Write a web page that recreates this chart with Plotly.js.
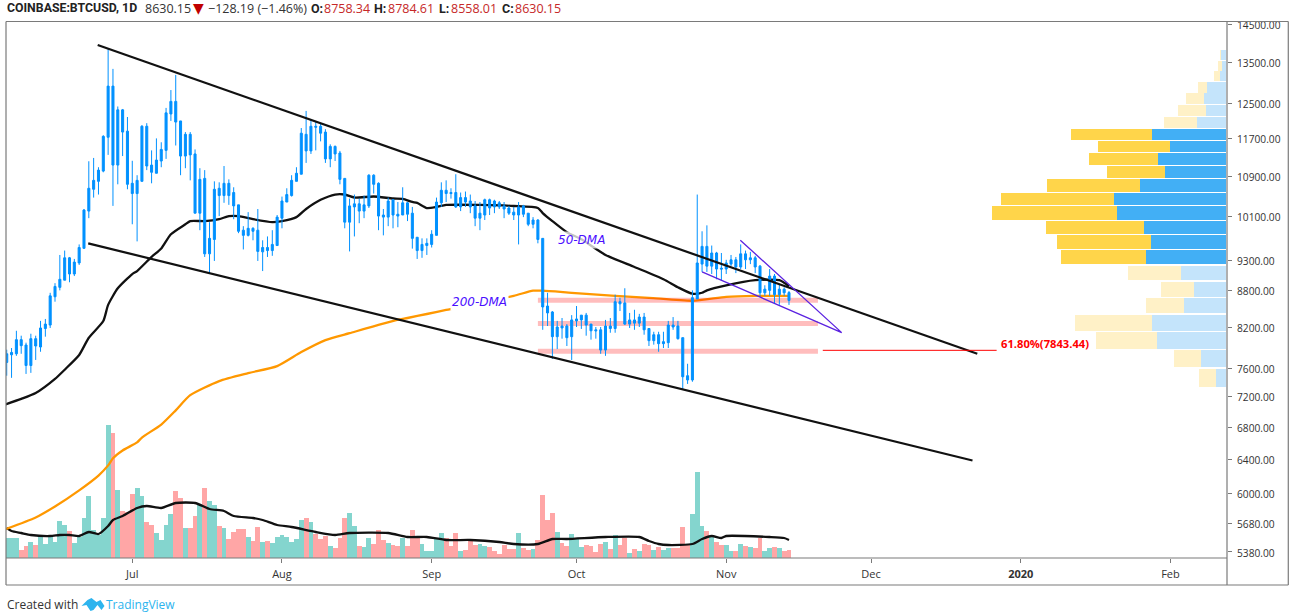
<!DOCTYPE html>
<html>
<head>
<meta charset="utf-8">
<script src="https://cdn.plot.ly/plotly-3.0.1.min.js"></script>
<style>
html, body { margin: 0; padding: 0; background: #fff; }
#chart { width: 1295px; height: 614px; }
</style>
</head>
<body>
<div id="chart"></div>
<script>
// Daily candles, Jun 5 to Nov 14 2019, one line per month
const firstDay = '2019-06-05';
const openPrices = [
    7682,7792,7807,8017,7937,7637,8032,7907,8187,8240,8690,8845,8965,9350,9070,9260,9518,10208,10635,10795,11005,11727,12910,11130,12347,11862,
    10755,10550,10795,11972,11130,10960,11215,11442,12252,12545,12092,11320,11792,11365,10168,10855,9420,9678,10655,10510,10755,10570,10328,9848,9753,9883,9848,9455,9533,9478,9568,
    10073,10383,10510,10795,10940,11792,11430,11972,11972,11842,11260,11527,11385,10855,9998,10288,10348,10208,10308,10920,10755,10133,10093,10428,10148,10133,10368,10168,9718,9478,9568,
    9588,9753,10368,10615,10570,10570,10288,10470,10403,10308,10073,10133,10428,10403,10368,10308,10268,10188,10133,10308,10168,9958,10038,9698,8540,8445,8062,8225,8225,8062,
    8305,8320,8395,8255,8167,8167,7862,8225,8187,8610,8590,8255,8320,8270,8365,8187,8002,8092,7957,7972,8240,8225,8047,7492,7432,8655,9240,9553,9205,9435,9170,
    9155,9240,9315,9190,9420,9315,9350,9205,8755,8795,9035,8725,8815,8758.34
];
const highPrices = [
    7867,7892,8152,8077,7972,8107,8077,8305,8335,8755,8915,9400,9478,9365,9330,9588,10248,11210,11280,11085,11772,13845,13335,12425,12367,12182,
    11220,10920,11997,12042,11442,11702,11617,12392,12815,13185,12092,11842,11842,11462,11065,11025,9998,10795,10775,11110,10835,10675,10328,9923,10188,9903,10248,9663,9733,9848,10133,
    10490,10655,10920,11085,11932,12322,12137,12067,12022,11907,11572,11547,11430,10855,10450,10530,10450,10510,10940,10940,10775,10248,10470,10443,10383,10675,10383,10288,9718,9698,9698,
    9848,10470,10775,10815,10655,10940,10570,10590,10530,10403,10383,10450,10450,10428,10403,10383,10308,10288,10383,10328,10168,10093,10053,9698,8755,8460,8305,8350,8255,8395,
    8540,8395,8430,8255,8210,8210,8320,8350,8725,8675,8830,8430,8480,8415,8430,8187,8137,8137,8137,8305,8365,8305,8047,7662,8795,10530,9828,9938,9568,9455,9435,
    9315,9400,9365,9588,9478,9455,9385,9225,8880,9155,9070,8895,8845,8784.61
];
const lowPrices = [
    7492,7462,7777,7807,7517,7532,7717,7837,8062,8195,8610,8795,8965,8930,9035,9225,9513,10073,10470,10530,10980,11345,10308,10735,11320,10635,
    9958,9643,10795,11025,10755,10960,11085,11260,12092,11547,10920,11065,10815,10168,9848,9365,9070,9295,10113,10368,10328,10053,9793,9498,9733,9663,9295,9120,9365,9385,9568,
    9883,10383,10490,10795,10940,11175,11365,11442,11637,11175,11085,11215,10735,9883,9463,9733,9978,10073,10268,10550,9848,9753,9923,9883,9903,10133,10018,9513,9330,9350,9400,
    9533,9753,10288,10383,10450,10268,10208,10288,10168,9923,9848,10038,10133,10168,10248,10073,10133,10038,9588,10093,9923,9883,9608,8167,8225,7732,7877,8032,7922,7717,
    8210,8180,8077,8017,8032,7807,7777,8122,8122,8460,8240,8195,8167,8210,8092,7922,7942,7837,7892,7892,8167,8017,7307,7377,7407,8655,9105,9105,9070,8980,8965,
    9070,9205,9085,9155,9155,9240,9085,8690,8705,8705,8575,8560,8705,8558.01
];
const closePrices = [
    7807,7827,8017,7927,7637,8032,7922,8195,8255,8705,8860,8980,9350,9070,9275,9533,10228,10655,10815,11025,11747,12910,11130,12347,11842,10735,
    10550,10815,11972,11110,10980,11235,11462,12277,12545,12067,11320,11792,11345,10168,10835,9420,9698,10635,10510,10755,10510,10308,9828,9753,9883,9828,9463,9533,9478,9588,10093,
    10403,10530,10815,10960,11817,11430,11972,11952,11817,11260,11527,11365,10835,9998,10308,10348,10208,10328,10920,10735,10113,10093,10403,10133,10113,10368,10148,9698,9478,9588,9608,
    9773,10383,10615,10550,10550,10288,10470,10383,10288,10073,10168,10428,10268,10288,10288,10248,10168,10133,10288,10148,9958,10038,9678,8525,8430,8062,8210,8195,8047,8320,
    8335,8395,8240,8152,8152,7862,8225,8187,8610,8575,8255,8320,8270,8365,8167,8002,8092,7957,7987,8240,8210,8032,7477,7432,8675,9260,9553,9205,9435,9155,9155,
    9260,9315,9190,9420,9315,9350,9190,8755,8815,9035,8725,8815,8755,8630.15
];
const volumes = [
    20,20,20,8,12,16,13,22,14,22,16,37,33,27,15,21,40,62,28,23,40,133,125,68,47,46,
    64,70,62,36,33,25,18,33,44,67,60,30,30,42,54,70,57,53,32,30,19,26,29,29,21,17,31,16,17,15,21,
    23,21,16,19,38,40,36,24,19,22,12,10,20,40,45,32,12,11,20,14,28,18,15,13,12,20,12,28,22,14,7,
    7,19,25,20,12,25,7,8,17,13,14,12,11,7,4,13,9,9,25,10,8,9,18,63,38,45,26,15,12,24,
    19,11,13,12,6,14,16,9,23,13,20,5,9,7,14,13,8,11,8,10,10,10,31,13,44,86,32,27,21,16,13,
    13,7,7,14,12,11,10,20,7,10,11,10,7,8
];

// Moving averages
const dma50Dates = ['2019-06-04','2019-06-08','2019-06-11','2019-06-15','2019-06-17','2019-06-20','2019-06-22','2019-06-25','2019-06-26','2019-06-28',
    '2019-07-01','2019-07-02','2019-07-05','2019-07-07','2019-07-09','2019-07-12','2019-07-13','2019-07-16','2019-07-19','2019-07-21','2019-07-23','2019-07-26','2019-07-30',
    '2019-08-01','2019-08-04','2019-08-06','2019-08-09','2019-08-12','2019-08-14','2019-08-16','2019-08-20','2019-08-24','2019-08-26','2019-08-28','2019-08-29','2019-08-31',
    '2019-09-02','2019-09-04','2019-09-11','2019-09-18','2019-09-23','2019-09-24','2019-09-26','2019-09-29',
    '2019-10-02','2019-10-07','2019-10-13','2019-10-19','2019-10-22','2019-10-25','2019-10-27','2019-10-28','2019-11-01','2019-11-07','2019-11-12','2019-11-14'];
const dma50Values = [7082,7172,7252,7447,7577,7790,8046,8303,8558,8829,
    9068,9120,9366,9515,9773,9958,10017,10018,10055,10112,10113,10055,9998,
    10017,10093,10248,10426,10531,10531,10472,10492,10452,10445,10385,10366,10267,
    10287,10326,10326,10306,10267,10170,10017,9810,
    9680,9401,9190,8982,8846,8740,8756,8796,8879,8965,8965,8862];
const dma200Dates = ['2019-06-04','2019-06-11','2019-06-15','2019-06-20','2019-06-24','2019-06-26','2019-06-27','2019-06-29',
    '2019-07-02','2019-07-03','2019-07-07','2019-07-10','2019-07-13','2019-07-19','2019-07-25','2019-07-31',
    '2019-08-05','2019-08-10','2019-08-15','2019-08-25','2019-08-27','2019-08-31','2019-09-04','2019-09-18','2019-09-22','2019-09-24','2019-09-30',
    '2019-10-09','2019-10-16','2019-10-25','2019-11-01','2019-11-07','2019-11-14'];
const dma200Values = [5600,5740,5860,6040,6210,6330,6415,6510,
    6610,6670,6835,7020,7223,7417,7528,7628,
    7832,8010,8115,8323,8350,8413,8478,8705,8790,8790,8755,
    8705,8673,8625,8689,8705,8705];
const volMaDates = ['2019-06-05','2019-06-06','2019-06-08','2019-06-10','2019-06-14','2019-06-16','2019-06-18','2019-06-20','2019-06-22','2019-06-24','2019-06-26','2019-06-27','2019-06-29',
    '2019-07-02','2019-07-04','2019-07-07','2019-07-10','2019-07-14','2019-07-17','2019-07-20','2019-07-22','2019-07-26','2019-07-28','2019-07-31',
    '2019-08-03','2019-08-08','2019-08-12','2019-08-15','2019-08-23','2019-08-27','2019-08-31',
    '2019-09-04','2019-09-09','2019-09-15','2019-09-18','2019-09-23','2019-09-26','2019-09-29',
    '2019-10-07','2019-10-14','2019-10-16','2019-10-18','2019-10-20','2019-10-25','2019-10-27','2019-10-29','2019-10-31','2019-11-01','2019-11-10','2019-11-13','2019-11-14'];
const volMaValues = [30,27,25,23,22,23,23,22,26,24,32,38,42,
    50,52,50,55,55,49,47,42,40,38,33,
    31,26,23,25,25,21,21,
    18,18,16,14,14,19,19,
    21,21,17,14,13,14,19,22,20,22,21,20,18];

// Volume profile, bottom row first
const profilePrices = [7463,7734,8005,8276,8547,8817,9088,9359,9630,9900,10171,10442,10713,10983,11254,11525,11796,12066,12337,12608,12879,13149,13420,13691];
const profileUp = [9.3,24.7,68.3,73.7,42,31.7,44.3,79.3,74.3,81.7,109,111.7,85.7,60.7,67.7,55.7,74,28.7,19.3,22,18.7,5.3,3.7,4.7];
const profileDown = [17,26.7,61.7,76.7,37.3,33,53,85.7,94,98,125,112.7,93,58,68.7,71.7,80.3,32.7,28.3,17.3,9.3,6.7,4.3,1.3];
const valueAreaLow = 9220;
const valueAreaHigh = 11935;

// Drawings on the chart
const upperChannelDates = ['2019-06-23 20:00','2019-12-23'];
const upperChannelPrices = [13947,7808];
const lowerChannelDates = ['2019-06-21 21:00','2019-12-22'];
const lowerChannelPrices = [9607,6389];
const wedgeDates = ['2019-11-03 22:00','2019-11-24 22:00','2019-10-27'];
const wedgePrices = [9665,8124,9106];
const bandDates = ['2019-09-23','2019-11-20'];
const bandPrices = [8634,8263,7843.44];
const fibDates = ['2019-11-21','2019-12-27'];
const fibPrice = 7858;

const yTicks = [14500,13500,12500,11700,10900,10100,9300,8800,8200,7600,7200,6800,6400,6000,5680,5380];
const xTickDates = ['2019-07-01','2019-08-01','2019-09-01','2019-10-01','2019-11-01','2019-12-01','2020-01-01','2020-02-01'];
const xTickLabels = ['Jul','Aug','Sep','Oct','Nov','Dec','<b>2020</b>','Feb'];

const W = 1295, H = 614;
const plotL = 5.5, plotR = 1226.7, plotT = 22, plotB = 558;
const px = x => (x - plotL) / (plotR - plotL);
const py = y => (plotB - y) / (plotB - plotT);
const xRange = ['2019-06-04 20:24','2020-02-12 17:00'];
const priceRange = [Math.log10(5319), Math.log10(14563)];

const dates = openPrices.map((_, i) => {
    const d = new Date(firstDay + 'T00:00:00Z');
    d.setUTCDate(d.getUTCDate() + i);
    return d.toISOString().slice(0, 10);
});
const volColors = openPrices.map((o, i) => closePrices[i] >= o ? '#84D5CE' : '#FFA6A6');
const inValueArea = p => p > valueAreaLow && p < valueAreaHigh;

const lineTrace = (x, y, yaxis, color, width, smooth) => ({
    x, y, xaxis: 'x', yaxis, type: 'scatter', mode: 'lines',
    line: smooth ? { color, width, shape: 'spline', smoothing: 0.6 } : { color, width },
    hoverinfo: 'skip', showlegend: false
});

const bandX = [], bandY = [];
bandPrices.forEach(p => {
    bandX.push(bandDates[0], bandDates[1], null);
    bandY.push(p, p, null);
});

const traces = [
    // volume pane
    { x: dates, y: volumes, type: 'bar', xaxis: 'x', yaxis: 'y', marker: { color: volColors, line: { width: 0 } }, hoverinfo: 'skip' },
    lineTrace(volMaDates, volMaValues, 'y', '#111', 2.3, true),
    // moving averages and zones sit under the candles
    lineTrace(dma50Dates, dma50Values, 'y2', '#111', 2.3, true),
    lineTrace(dma200Dates, dma200Values, 'y2', '#FF9800', 2.3, true),
    lineTrace(bandX, bandY, 'y2', 'rgba(255,0,0,0.26)', 5),
    {
        type: 'candlestick', x: dates, open: openPrices, high: highPrices, low: lowPrices, close: closePrices,
        xaxis: 'x', yaxis: 'y3',
        increasing: { line: { color: '#0091FF', width: 1 }, fillcolor: '#0091FF' },
        decreasing: { line: { color: '#0091FF', width: 1 }, fillcolor: '#0091FF' },
        hoverinfo: 'skip', showlegend: false
    },
    lineTrace(upperChannelDates, upperChannelPrices, 'y3', '#111', 2.2),
    lineTrace(lowerChannelDates, lowerChannelPrices, 'y3', '#111', 2.2),
    lineTrace(wedgeDates, wedgePrices, 'y3', '#5B22E0', 1.3),
    lineTrace(fibDates, [fibPrice, fibPrice], 'y3', '#F00', 1),
    // volume profile hangs off the right edge
    {
        type: 'bar', orientation: 'h', x: profileUp, y: profilePrices, width: 251, xaxis: 'x2', yaxis: 'y2',
        marker: { color: profilePrices.map(p => inValueArea(p) ? '#42AFF5' : '#C4E4FB'), line: { width: 0 } }, hoverinfo: 'skip'
    },
    {
        type: 'bar', orientation: 'h', x: profileDown, y: profilePrices, width: 251, xaxis: 'x2', yaxis: 'y2',
        marker: { color: profilePrices.map(p => inValueArea(p) ? '#FFD54A' : '#FFF1C7'), line: { width: 0 } }, hoverinfo: 'skip'
    }
];

const grey = '#7a7a7a';
const frameLine = (x0, y0, x1, y1) => ({
    type: 'line', xref: 'paper', yref: 'paper', x0: px(x0), y0: py(y0), x1: px(x1), y1: py(y1),
    line: { color: grey, width: 1.2 }
});
const logoPoints = [[81,606],[87,600],[91,598],[96,602],[100,600],[104,606],[101,610],[97,605],[93,610],[90,611],[86,605]];
const logoPath = logoPoints.map((p, i) => (i ? 'L' : 'M') + px(p[0]) + ',' + py(p[1])).join(' ') + ' Z';

const pageNote = (text, x, y, size, color, family) => ({
    text, xref: 'paper', yref: 'paper', x: px(x), y: py(y), xanchor: 'left', yanchor: 'middle',
    showarrow: false, borderpad: 0, font: { size, color, family: family || 'Open Sans, sans-serif' }
});
const chartLabel = (text, x, price, color, opts) => Object.assign({
    text, xref: 'x', yref: 'y2', x, y: Math.log10(price), xanchor: 'center', yanchor: 'middle',
    showarrow: false, font: { size: 12, color, family: 'DejaVu Sans' }
}, opts);

const red = '#C62828';
const headerY = 8.5;

const layout = {
    width: W, height: H,
    paper_bgcolor: '#fff', plot_bgcolor: '#fff',
    margin: { l: plotL, r: W - plotR, t: plotT, b: H - plotB, pad: 0 },
    font: { family: 'Open Sans, sans-serif', size: 10.5, color: '#333' },
    showlegend: false, hovermode: false,
    barmode: 'stack', bargap: 0, boxgap: 0.4,
    xaxis: {
        type: 'date', range: xRange, showgrid: false, zeroline: false, showline: false,
        tickmode: 'array', tickvals: xTickDates, ticktext: xTickLabels, ticks: 'outside', ticklen: 4, tickcolor: grey,
        tickfont: { size: 11, color: '#333' }, ticklabelstandoff: 2,
        rangeslider: { visible: false }
    },
    xaxis2: { overlaying: 'x', range: [1219.8, -1.4], visible: false },
    yaxis: { range: [0, plotB - plotT], visible: false, fixedrange: true },
    yaxis2: {
        type: 'log', overlaying: 'y', side: 'right', anchor: 'x', range: priceRange,
        showgrid: false, zeroline: false, showline: false,
        tickmode: 'array', tickvals: yTicks, ticktext: yTicks.map(v => v.toFixed(2)),
        ticks: 'outside', ticklen: 4, tickcolor: grey, tickfont: { size: 10.2, color: '#333' }, ticklabelstandoff: 3, ticklabelshift: 1
    },
    yaxis3: { type: 'log', overlaying: 'y', anchor: 'x', range: priceRange, visible: false },
    shapes: [
        frameLine(5.5, 21.5, 1288, 21.5),
        frameLine(5.5, 21.5, 5.5, 585),
        frameLine(5.5, 585, 1288, 585),
        frameLine(1288, 21.5, 1288, 585),
        frameLine(1226.7, 21.5, 1226.7, 585),
        frameLine(5.5, 558, 1226.7, 558),
        { type: 'path', xref: 'paper', yref: 'paper', path: logoPath, fillcolor: '#2DB4EE', line: { width: 0 } }
    ],
    annotations: [
        pageNote('<b>COINBASE:BTCUSD, 1D</b>', 6, headerY, 12.3, '#222', 'Roboto'),
        pageNote('8630.15', 143.5, headerY, 12.5, '#333'),
        pageNote('▼', 192, headerY, 14, '#C00000', 'DejaVu Sans'),
        pageNote('−128.19 (−1.46%)', 207, headerY, 12.5, '#333'),
        pageNote('<b>O:</b>', 309.5, headerY, 12.5, '#222', 'Roboto'),
        pageNote('8758.34', 323, headerY, 12.5, red),
        pageNote('<b>H:</b>', 373, headerY, 12.5, '#222', 'Roboto'),
        pageNote('8784.61', 387, headerY, 12.5, red),
        pageNote('<b>L:</b>', 437.5, headerY, 12.5, '#222', 'Roboto'),
        pageNote('8558.01', 450, headerY, 12.5, red),
        pageNote('<b>C:</b>', 501, headerY, 12.5, '#222', 'Roboto'),
        pageNote('8630.15', 514, headerY, 12.5, red),
        pageNote('Created with', 5.5, 604, 12, '#333'),
        pageNote('TradingView', 105, 604, 12, '#2DB4EE'),
        chartLabel('<i>50-DMA</i>', '2019-10-02', 9665, '#4B0FFF', { bgcolor: 'rgba(255,255,255,0.75)' }),
        chartLabel('<i>200-DMA</i>', '2019-09-11', 8599, '#4B0FFF', { bgcolor: '#fff' }),
        chartLabel('<b>61.80%(7843.44)</b>', '2020-01-06', 7957, '#F00', { font: { size: 11.2, color: '#F00', family: 'Open Sans, sans-serif' } })
    ]
};

Plotly.newPlot('chart', traces, layout, { staticPlot: true, displayModeBar: false });
</script>
</body>
</html>
